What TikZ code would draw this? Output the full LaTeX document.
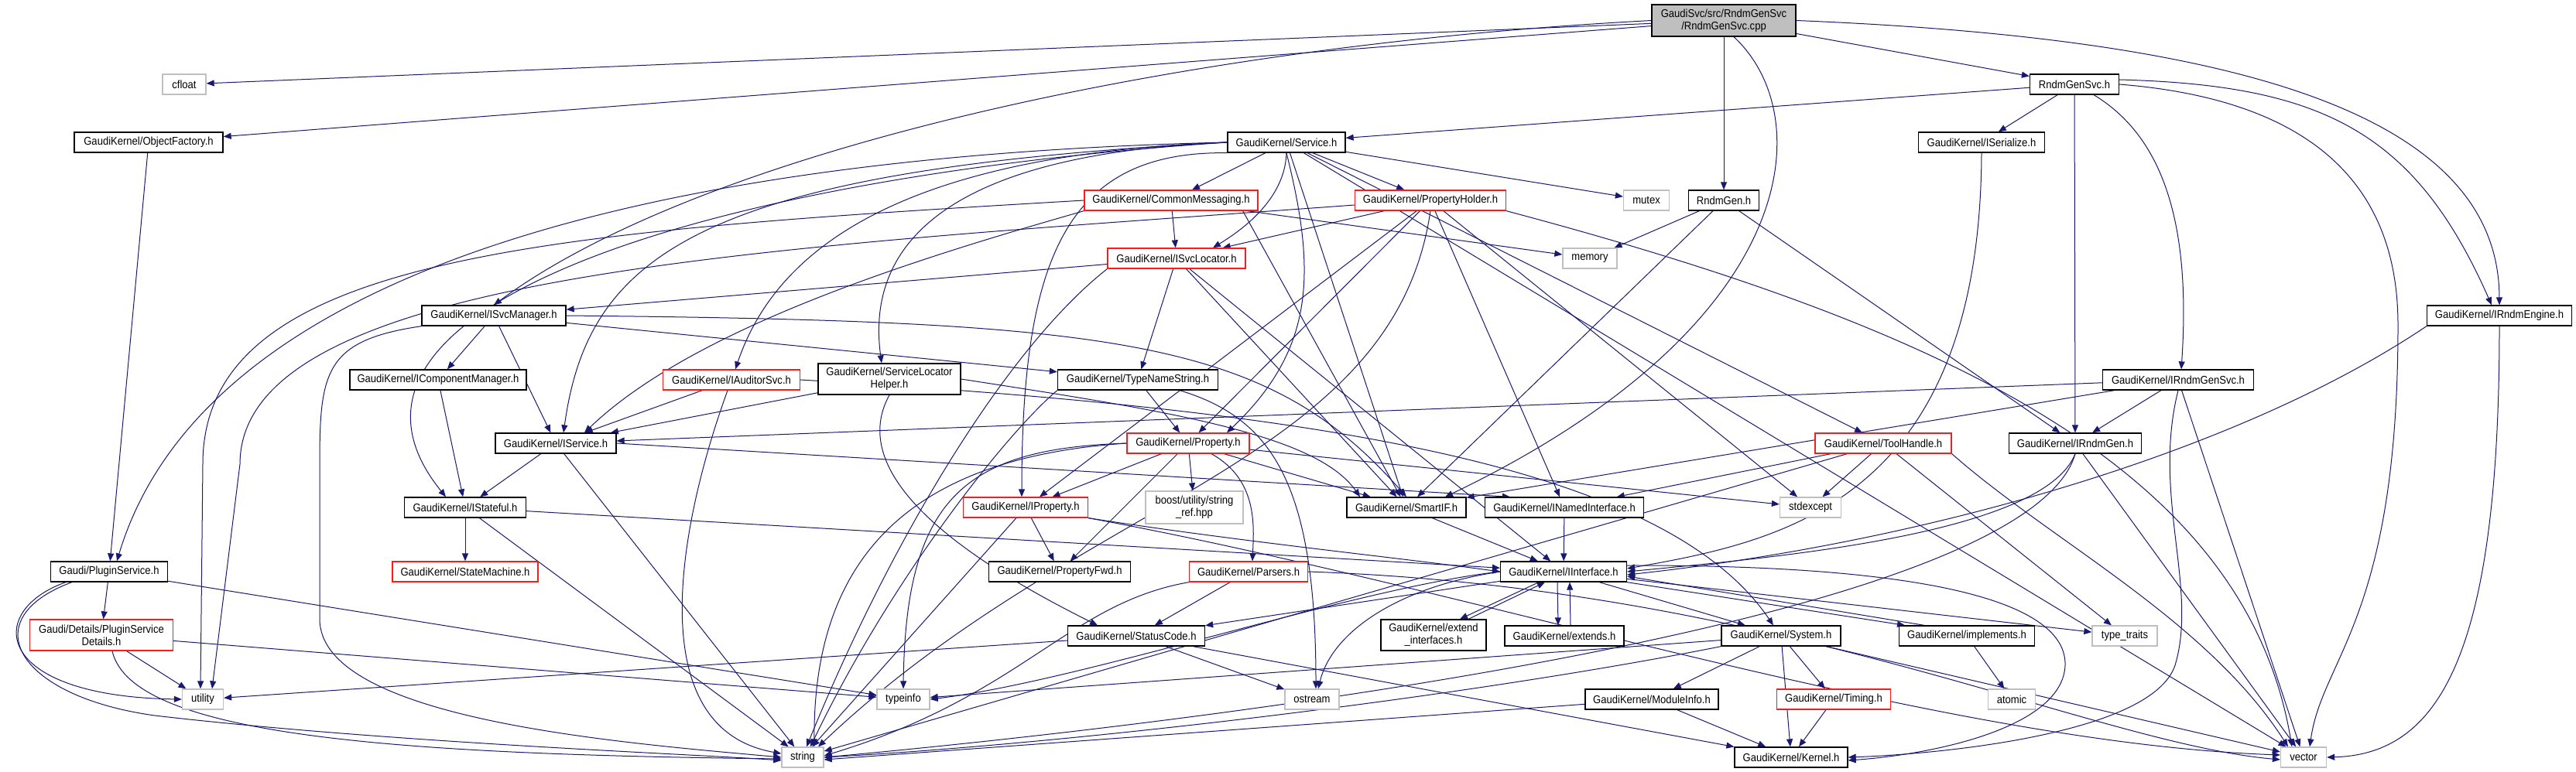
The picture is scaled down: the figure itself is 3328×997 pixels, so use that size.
\documentclass[tikz,border=0pt]{standalone}
\usepackage{fontspec}
\setmainfont{Liberation Sans}[FakeStretch=0.9]
\usetikzlibrary{arrows.meta,backgrounds}
\definecolor{edgeblue}{HTML}{191970}
\definecolor{lgray}{HTML}{BFBFBF}
\definecolor{rbord}{HTML}{FF1A1A}
\begin{document}
\begin{tikzpicture}[x=1pt,y=-1pt,
 box/.style={draw=black, line width=1.3pt, fill=white, inner sep=0pt, font=\fontsize{14.5}{16}\selectfont, align=center, minimum height=26pt},
 redbox/.style={box, draw=rbord},
 sysbox/.style={box, draw=lgray},
 mainbox/.style={box, fill=lgray},
 dep/.style={draw=edgeblue, line width=1pt, -{Triangle[length=10pt,width=8pt]}},
]
\useasboundingbox (0,0) rectangle (3328,997);
% nodes
\node[mainbox, minimum width=186pt, minimum height=41pt] (main) at (2227,26.5) {GaudiSvc/src/RndmGenSvc\\/RndmGenSvc.cpp};
\node[sysbox, minimum width=56pt] (cfloat) at (238,109) {cfloat};
\node[box, minimum width=192pt] (objfac) at (192,184) {GaudiKernel/ObjectFactory.h};
\node[box, minimum width=115pt] (rgsvch) at (2680,109) {RndmGenSvc.h};
\node[box, minimum width=152pt] (service) at (1662,184) {GaudiKernel/Service.h};
\node[box, minimum width=163pt] (iserial) at (2560,184) {GaudiKernel/ISerialize.h};
\node[redbox, minimum width=224pt] (commsg) at (1513,259) {GaudiKernel/CommonMessaging.h};
\node[redbox, minimum width=195pt] (propholder) at (1848,259) {GaudiKernel/PropertyHolder.h};
\node[sysbox, minimum width=59pt] (mutex) at (2127,259) {mutex};
\node[box, minimum width=91pt] (rndmgen) at (2227,259) {RndmGen.h};
\node[redbox, minimum width=178pt] (isvcloc) at (1520,334) {GaudiKernel/ISvcLocator.h};
\node[sysbox, minimum width=70pt] (memory) at (2054,334) {memory};
\node[box, minimum width=186pt] (isvcman) at (638,408) {GaudiKernel/ISvcManager.h};
\node[box, minimum width=187pt] (irndmeng) at (3229,408) {GaudiKernel/IRndmEngine.h};
\node[box, minimum width=228pt] (icompman) at (566,491) {GaudiKernel/IComponentManager.h};
\node[redbox, minimum width=177pt] (iauditor) at (945,491) {GaudiKernel/IAuditorSvc.h};
\node[box, minimum width=184pt, minimum height=40pt] (slhelper) at (1149,490) {GaudiKernel/ServiceLocator\\Helper.h};
\node[box, minimum width=207pt] (typename) at (1470,491) {GaudiKernel/TypeNameString.h};
\node[box, minimum width=195pt] (irndmgensvc) at (2814,491) {GaudiKernel/IRndmGenSvc.h};
\node[box, minimum width=156pt] (iservice) at (718,573) {GaudiKernel/IService.h};
\node[redbox, minimum width=158pt] (property) at (1535,573) {GaudiKernel/Property.h};
\node[redbox, minimum width=176pt] (toolhandle) at (2433,573) {GaudiKernel/ToolHandle.h};
\node[box, minimum width=171pt] (irndmgen) at (2681,573) {GaudiKernel/IRndmGen.h};
\node[box, minimum width=157pt] (istateful) at (601,656) {GaudiKernel/IStateful.h};
\node[redbox, minimum width=161pt] (iproperty) at (1325,656) {GaudiKernel/IProperty.h};
\node[sysbox, minimum width=126pt, minimum height=42pt] (boost) at (1543,656) {boost/utility/string\\\_ref.hpp};
\node[box, minimum width=154pt] (smartif) at (1817,656) {GaudiKernel/SmartIF.h};
\node[box, minimum width=205pt] (inamed) at (2021,656) {GaudiKernel/INamedInterface.h};
\node[sysbox, minimum width=79pt] (stdexcept) at (2339,656) {stdexcept};
\node[box, minimum width=151pt] (plugin) at (141,739) {Gaudi/PluginService.h};
\node[redbox, minimum width=188pt] (statemach) at (601,739) {GaudiKernel/StateMachine.h};
\node[box, minimum width=183pt] (propfwd) at (1369,739) {GaudiKernel/PropertyFwd.h};
\node[redbox, minimum width=153pt] (parsers) at (1613,739) {GaudiKernel/Parsers.h};
\node[box, minimum width=163pt] (iinterface) at (2020,739) {GaudiKernel/IInterface.h};
\node[redbox, minimum width=185pt, minimum height=40pt] (psdetails) at (131,821) {Gaudi/Details/PluginService\\Details.h};
\node[box, minimum width=177pt] (statuscode) at (1468,822) {GaudiKernel/StatusCode.h};
\node[box, minimum width=136pt, minimum height=40pt] (extendif) at (1852,821) {GaudiKernel/extend\\\_interfaces.h};
\node[box, minimum width=154pt] (extends) at (2021,822) {GaudiKernel/extends.h};
\node[box, minimum width=154pt] (system) at (2301,822) {GaudiKernel/System.h};
\node[box, minimum width=175pt] (implements) at (2541,822) {GaudiKernel/implements.h};
\node[sysbox, minimum width=84pt] (typetraits) at (2745,822) {type\_traits};
\node[sysbox, minimum width=53pt] (utility) at (262,904) {utility};
\node[sysbox, minimum width=68pt] (typeinfo) at (1167,904) {typeinfo};
\node[sysbox, minimum width=70pt] (ostream) at (1695,904) {ostream};
\node[box, minimum width=172pt] (moduleinfo) at (2134,904) {GaudiKernel/ModuleInfo.h};
\node[redbox, minimum width=147pt] (timing) at (2369,904) {GaudiKernel/Timing.h};
\node[sysbox, minimum width=61pt] (atomic) at (2599,904) {atomic};
\node[sysbox, minimum width=54pt] (string) at (1037,979) {string};
\node[box, minimum width=146pt] (kernel) at (2314,979) {GaudiKernel/Kernel.h};
\node[sysbox, minimum width=59pt] (vector) at (2976,979) {vector};

\begin{pgfonlayer}{background}
\fill[white] (0,0) rectangle (3328,997);
% main
\draw[dep] (main) -- (cfloat);
\draw[dep] (main) -- (objfac);
\draw[dep] (main.west) .. controls (1500,60) and (900,200) .. (isvcman.north);
\draw[dep] (main) -- (rndmgen);
\draw[dep] ([xshift=13pt]main.south) .. controls (2350,150) and (2330,420) .. ([xshift=50pt]smartif.north);
\draw[dep] (main) -- (rgsvch);
\draw[dep] (main.east) .. controls (2900,50) and (3228,150) .. (irndmeng.north);
% ObjectFactory
\draw[dep] (objfac) -- (plugin);
% RndmGenSvc.h
\draw[dep] (rgsvch) -- (service);
\draw[dep] (rgsvch) -- (iserial);
\draw[dep] ([xshift=25pt]rgsvch.south) .. controls (2800,180) and (2830,300) .. ([xshift=4pt]irndmgensvc.north);
\draw[dep] (rgsvch) -- (irndmgen);
\draw[dep] (rgsvch.east) .. controls (3000,130) and (3098,250) .. (3098,420) .. controls (3098,800) and (3000,850) .. ([xshift=8pt]vector.north);
\draw[dep] ([yshift=6pt]rgsvch.east) .. controls (3000,110) and (3120,170) .. ([xshift=-10pt]irndmeng.north);
% ISerialize
\draw[dep] (iserial.south) .. controls (2558,650) and (2300,700) .. ([yshift=4pt]iinterface.east);
% Service
\draw[dep] (service.west) .. controls (900,200) and (270,330) .. ([xshift=10pt]plugin.north);
\draw[dep] (service.west) .. controls (900,230) and (380,400) .. ([xshift=-25pt]istateful.north);
\draw[dep] (service.west) .. controls (900,220) and (760,330) .. ([xshift=10pt]iservice.north);
\draw[dep] (service.west) .. controls (1150,200) and (1000,330) .. ([xshift=5pt]iauditor.north);
\draw[dep] (service.west) .. controls (1200,200) and (1120,330) .. ([xshift=-10pt]slhelper.north);
\draw[dep] (service) -- (commsg);
\draw[dep] (service.south) .. controls (1660,260) and (1600,300) .. ([xshift=47pt]isvcloc.north);
\draw[dep] (service) -- (propholder);
\draw[dep] (service) -- (mutex);
\draw[dep] (service.south west) .. controls (1380,195) and (1320,330) .. ([xshift=-5pt]iproperty.north);
\draw[dep] (service.south) .. controls (1700,350) and (1700,450) .. ([xshift=50pt]property.north);
\draw[dep] (service) -- (smartif);
\draw[dep] (service) -- (toolhandle);
\draw[dep] (service) -- (vector);
% CommonMessaging
\draw[dep] (commsg) -- (isvcloc);
\draw[dep] (commsg) -- (memory);
\draw[dep] (commsg.west) .. controls (700,300) and (262,330) .. (262,600) -- ([xshift=-3pt]utility.north);
\draw[dep] (commsg.south west) .. controls (1200,330) and (900,420) .. ([xshift=37pt]iservice.north);
\draw[dep] ([xshift=-20pt]commsg.south east) -- (smartif);
% PropertyHolder
\draw[dep] (propholder) -- (isvcloc);
\draw[dep] ([yshift=-6pt]propholder.west) .. controls (1000,320) and (310,350) .. (310,600) -- ([xshift=12pt]utility.north);
\draw[dep] (propholder) -- (property);
\draw[dep] (propholder) -- (iproperty);
\draw[dep] (propholder.south) .. controls (1800,600) and (1400,640) .. ([xshift=20pt]string.north);
\draw[dep] (propholder) -- (inamed);
\draw[dep] (propholder) -- (stdexcept);
\draw[dep] (propholder.south east) .. controls (2500,420) and (2900,600) .. ([xshift=-15pt]vector.north);
% RndmGen
\draw[dep] (rndmgen) -- (memory);
\draw[dep] (rndmgen) -- (smartif);
\draw[dep] (rndmgen) -- (irndmgen);
% ISvcLocator
\draw[dep] (isvcloc) -- (isvcman);
\draw[dep] (isvcloc) -- (typename);
\draw[dep] (isvcloc) -- (smartif);
\draw[dep] (isvcloc) -- (iinterface);
\draw[dep] (isvcloc.south west) .. controls (1300,450) and (1150,700) .. ([xshift=5pt]string.north);
% ISvcManager
\draw[dep] (isvcman) -- (icompman);
\draw[dep] (isvcman) -- (iservice);
\draw[dep] (isvcman) -- (typename);
\draw[dep] (isvcman.east) .. controls (1450,415) and (1640,440) .. (smartif.north);
\draw[dep] (isvcman.south west) .. controls (420,440) and (413,480) .. (413,600) -- (413,800) .. controls (413,930) and (800,960) .. (string.west);
% IComponentManager
\draw[dep] (icompman) -- (istateful);
% IAuditorSvc
\draw[dep] (iauditor) -- (iservice);
\draw[dep] (iauditor) to[out=-110, in=170] (string);
\draw[dep] (iauditor.east) .. controls (1700,530) and (2150,600) .. ([xshift=-10pt]system.north);
% ServiceLocatorHelper
\draw[dep] (slhelper) -- (iservice);
\draw[dep] (slhelper.south) .. controls (1100,600) and (1200,700) .. ([xshift=-50pt]statuscode.north);
\draw[dep] (slhelper.east) .. controls (1500,530) and (1700,560) .. ([xshift=-60pt]smartif.north);
% TypeNameString
\draw[dep] (typename) -- (property);
\draw[dep] (typename.south west) .. controls (1300,560) and (1150,750) .. ([xshift=10pt]string.north);
\draw[dep] ([xshift=-50pt]typename.south east) .. controls (1640,540) and (1700,620) .. ([xshift=5pt]ostream.north);
% IRndmGenSvc
\draw[dep] (irndmgensvc) -- (iservice);
\draw[dep] (irndmgensvc) -- (smartif);
\draw[dep] (irndmgensvc) -- (irndmgen);
\draw[dep] (irndmgensvc.south) .. controls (2780,640) and (2840,760) .. (2810,860) .. controls (2780,950) and (2500,975) .. (kernel.east);
\draw[dep] (irndmgensvc) -- (vector);
% IService
\draw[dep] (iservice) -- (istateful);
\draw[dep] (iservice.east) -- ([xshift=-70pt]inamed.north);
\draw[dep] (iservice) -- (string);
% Property
\draw[dep] (property) -- (iproperty);
\draw[dep] (property) -- (propfwd);
\draw[dep] (property) -- (boost);
\draw[dep] ([xshift=30pt]property.south) .. controls (1625,620) and (1620,680) .. ([xshift=5pt]parsers.north);
\draw[dep] (property.west) .. controls (1200,590) and (1050,700) .. ([xshift=15pt]string.north);
\draw[dep] (property.west) .. controls (1250,580) and (1170,640) .. (typeinfo.north);
\draw[dep] (property) -- (smartif);
\draw[dep] (property) -- (stdexcept);
% IProperty
\draw[dep] (iproperty) -- (propfwd);
\draw[dep] (iproperty) -- (string);
\draw[dep] (iproperty.south east) .. controls (1600,700) and (1800,720) .. (iinterface.west);
\draw[dep] (iproperty.south east) .. controls (1900,760) and (2500,960) .. ([yshift=3pt]vector.west);
% IStateful
\draw[dep] (istateful) -- (statemach);
\draw[dep] (istateful) -- (iinterface);
\draw[dep] (istateful) -- (string);
% ToolHandle
\draw[dep] (toolhandle) -- (inamed);
\draw[dep] (toolhandle) -- (stdexcept);
\draw[dep] (toolhandle) -- (typetraits);
\draw[dep] (toolhandle.south east) .. controls (2650,700) and (2850,800) .. ([xshift=-20pt]vector.north);
\draw[dep] (toolhandle) -- (string);
% IRndmGen
\draw[dep] (irndmgen.south) .. controls (2640,690) and (2300,720) .. (iinterface.east);
\draw[dep] (irndmgen.south) .. controls (2620,800) and (1600,930) .. (string.east);
\draw[dep] (irndmgen) -- (vector);
% IRndmEngine
\draw[dep] (irndmeng.south west) .. controls (2900,580) and (2500,700) .. ([yshift=-4pt]iinterface.east);
\draw[dep] (irndmeng.south) .. controls (3229,850) and (3150,975) .. (vector.east);
% PluginService
\draw[dep] (plugin) -- (psdetails);
\draw[dep] ([xshift=20pt]plugin.south west) .. controls (-20,790) and (-10,900) .. (utility.west);
\draw[dep] ([xshift=28pt]plugin.south west) .. controls (-35,800) and (20,900) .. (200,925) .. controls (500,960) and (900,975) .. ([yshift=-4pt]string.west);
\draw[dep] (plugin) -- (typeinfo);
% PluginServiceDetails
\draw[dep] (psdetails) -- (utility);
\draw[dep] ([xshift=14pt]psdetails.south) .. controls (170,950) and (500,975) .. ([yshift=-2pt]string.west);
\draw[dep] (psdetails) -- (typeinfo);
% Parsers
\draw[dep] (parsers) -- (statuscode);
\draw[dep] (parsers.south west) .. controls (1380,780) and (1320,900) .. ([yshift=2pt]string.east);
\draw[dep] (parsers.east) .. controls (2300,760) and (2700,960) .. ([yshift=-3pt]vector.west);
% StatusCode
\draw[dep] (statuscode) -- (utility);
\draw[dep] (statuscode) -- (ostream);
\draw[dep] (statuscode) -- (kernel);
% IInterface
\draw[dep] ([xshift=-32pt]iinterface.south) -- ([xshift=34pt]extendif.north);
\draw[dep] ([xshift=45pt]extendif.north) -- ([xshift=-24pt]iinterface.south);
\draw[dep] ([xshift=-8pt]iinterface.south) -- ([xshift=-8pt]extends.north);
\draw[dep] ([xshift=8pt]extends.north) -- ([xshift=8pt]iinterface.south);
\draw[dep] (iinterface.south east) -- ([xshift=-80pt]implements.north);
\draw[dep] ([xshift=-55pt]implements.north) -- ([yshift=-6pt]iinterface.east);
\draw[dep] (iinterface) -- (statuscode);
\draw[dep] (iinterface.west) .. controls (1750,760) and (1400,880) .. (typeinfo.east);
\draw[dep] (iinterface.west) .. controls (1800,760) and (1720,820) .. ([xshift=8pt]ostream.north);
\draw[dep] (iinterface) -- (system);
\draw[dep] ([yshift=8pt]iinterface.east) .. controls (2500,730) and (2670,780) .. (2668,860) .. controls (2665,940) and (2500,975) .. ([yshift=-4pt]kernel.east);
\draw[dep] (iinterface) -- (typetraits);
% System
\draw[dep] (system) -- (kernel);
\draw[dep] (system) -- (moduleinfo);
\draw[dep] (system) -- (timing);
\draw[dep] (system) -- (typeinfo);
\draw[dep] (system.south west) .. controls (1900,900) and (1400,960) .. (string.east);
\draw[dep] (system) -- (vector);
% ModuleInfo, Timing, implements
\draw[dep] (moduleinfo) -- (kernel);
\draw[dep] (moduleinfo) -- ([yshift=-3pt]string.east);
\draw[dep] (timing) -- (kernel);
\draw[dep] (implements) -- (atomic);
% SmartIF, INamedInterface
\draw[dep] (smartif) -- (iinterface);
\draw[dep] (inamed) -- (iinterface);
\end{pgfonlayer}
\end{tikzpicture}
\end{document}
